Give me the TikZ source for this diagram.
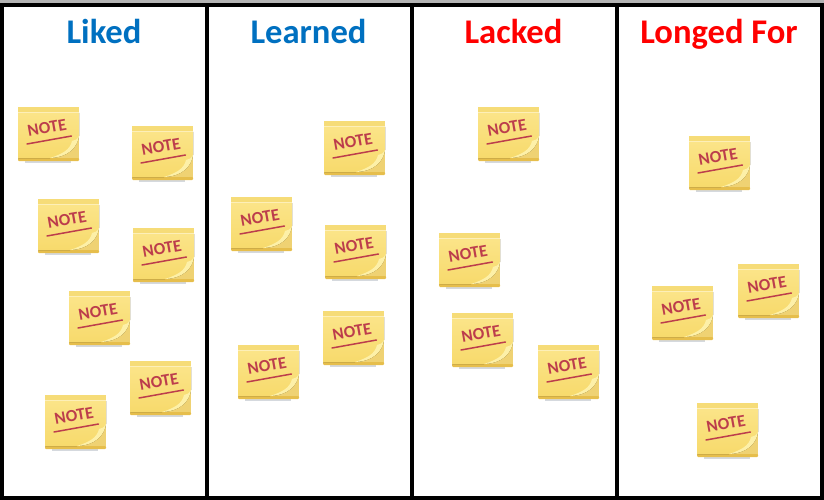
\documentclass[tikz,border=0pt]{standalone}
\usepackage{fontspec}
\setmainfont{Carlito}
\usepackage{xcolor}
\definecolor{headblue}{HTML}{0070C0}
\definecolor{headred}{HTML}{FF0000}
\definecolor{noteink}{HTML}{BC3D4C}
\definecolor{notetop}{HTML}{FBE488}
\definecolor{notebottom}{HTML}{F7DA6C}
\definecolor{noteband}{HTML}{F6DC78}
\definecolor{noteedge}{HTML}{E6BE4C}
\definecolor{notecurl}{HTML}{FDF0A8}
\definecolor{notecorner}{HTML}{EFD273}
\definecolor{noteshadow}{HTML}{D5D9DE}
\definecolor{topstrip}{HTML}{B4B4B4}
\tikzset{
    column-head/.style = {font=\fontsize{34.6}{36}\selectfont\bfseries, inner sep=0pt, anchor=base},
    frame-line/.style = {draw=black, line width=4pt},
    note-text/.style = {text=noteink, font=\fontsize{17}{18}\selectfont\bfseries, rotate=10, inner sep=0pt},
    note/.pic = {
        \fill[noteshadow] (-23,27) rectangle (23,29);
        \fill[notecorner] (-30,-27) rectangle (31,25);
        \fill[noteedge, rounded corners=1pt] (-30,24) rectangle (31,27);
        \fill[noteband] (-30,-27) rectangle (31,-21);
        \fill[top color=notetop, bottom color=notebottom] (-30,-21) -- (31,-21) -- (31,2)
            .. controls (29,14) and (20,23) .. (2,24) -- (-30,24) -- cycle;
        \fill[notetop!60!white] (-30,-22) rectangle (31,-21);
        \fill[notecurl] (31,2) .. controls (29,14) and (20,23) .. (2,24)
            .. controls (14,20) and (22,16) .. (24,7) .. controls (27,7) and (29,5) .. (31,2) -- cycle;
        \node[note-text] (-label) at (-1,-6) {NOTE};
        \coordinate (-a) at (-21,10);
        \coordinate (-b) at (23.5,2);
        \draw[noteink, line width=1.5pt, line cap=round] (-a) -- (-b);
    },
}
\begin{document}
\begin{tikzpicture}[x=1pt, y=-1pt]
\useasboundingbox (0,0) rectangle (824,500);
\fill[topstrip] (0,0) rectangle (824,3);
% board
\coordinate (tl) at (2,5);
\coordinate (br) at (822,497.5);
\draw[frame-line] (tl) rectangle (br);
\foreach \n/\x in {a/207, b/412, c/617} {
    \coordinate (\n-top) at (\x,5);
    \coordinate (\n-bottom) at (\x,497.5);
    \draw[frame-line] (\n-top) -- (\n-bottom);
}
% headings
\node[column-head, text=headblue] (liked) at (104,44) {Liked};
\node[column-head, text=headblue] (learned) at (308.5,44) {Learned};
\node[column-head, text=headred] (lacked) at (513.5,44) {Lacked};
\node[column-head, text=headred] (longed) at (719,44) {Longed For};
% notes
\foreach \n/\x/\y in {l1/48/134, l2/162/153, l3/68/226, l4/163/255, l5/99/318, l6/160/388, l7/75/422,
    m1/354/148, m2/261/224, m3/355/252, m4/353/338, m5/268/372,
    k1/508/134, k2/469/260, k3/482/340, k4/568/372,
    f1/719/163, f2/768/291, f3/682/313, f4/727/430} {
    \pic (\n) at (\x,\y) {note};
}
\end{tikzpicture}
\end{document}
